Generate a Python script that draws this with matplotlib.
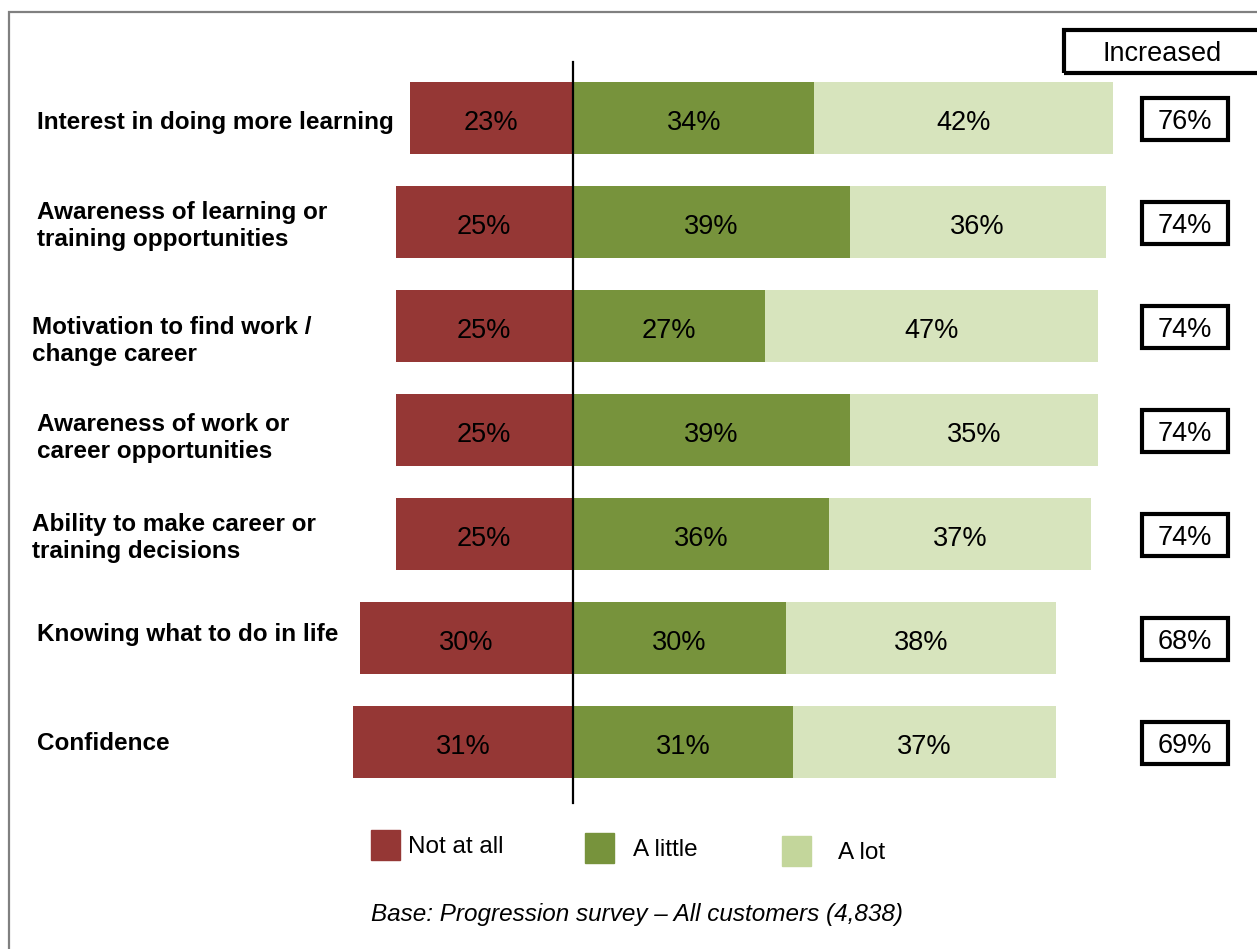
"""Diverging stacked bars: how much each outcome changed after the programme."""

import matplotlib

matplotlib.use("Agg")
import matplotlib.pyplot as plt  # noqa: E402
from matplotlib.patches import Rectangle  # noqa: E402

plt.rcParams["font.family"] = ["Liberation Sans", "DejaVu Sans"]

categories = [
    "Interest in doing more learning",
    "Awareness of learning or\ntraining opportunities",
    "Motivation to find work /\nchange career",
    "Awareness of work or\ncareer opportunities",
    "Ability to make career or\ntraining decisions",
    "Knowing what to do in life",
    "Confidence",
]
not_at_all = [23, 25, 25, 25, 25, 30, 31]
a_little = [34, 39, 27, 39, 36, 30, 31]
a_lot = [42, 36, 47, 35, 37, 38, 37]
increased = [76, 74, 74, 74, 74, 68, 69]

RED = "#953735"
GREEN = "#77933C"
LIGHT = "#D7E4BD"
LIGHT_KEY = "#C3D69B"

W, H = 1257, 949
CENTER_PX, PX_PER_PCT = 573, 7.1
ROW0_PX, ROW_STEP_PX = 118, 104

# per-row nudges for the category labels (x left edge, y shift in px)
label_x = [37, 37, 32, 37, 32, 37, 37]
label_dy = [4, 4, 15, 8, 4, -4, 2]


def fx(px):
    return px / W


def fy(py):
    return 1 - py / H


def row_y(py):
    return (py - ROW0_PX) / ROW_STEP_PX


fig = plt.figure(figsize=(W / 100, H / 100), dpi=100)
ax = fig.add_axes([0, 0, 1, 1])
ax.set_xlim(-CENTER_PX / PX_PER_PCT, (W - CENTER_PX) / PX_PER_PCT)
ax.set_ylim(row_y(H), row_y(0))
ax.axis("off")

rows = range(len(categories))
bh = 0.70
ax.barh(rows, not_at_all, left=[-v for v in not_at_all], height=bh, color=RED)
ax.barh(rows, a_little, left=0, height=bh, color=GREEN)
ax.barh(rows, a_lot, left=a_little, height=bh, color=LIGHT)

dy = 0.045
for i in rows:
    ax.text(-not_at_all[i] / 2, i + dy, f"{not_at_all[i]}%", ha="center", va="center",
            fontsize=19.5)
    ax.text(a_little[i] / 2, i + dy, f"{a_little[i]}%", ha="center", va="center",
            fontsize=19.5)
    ax.text(a_little[i] + a_lot[i] / 2, i + dy, f"{a_lot[i]}%", ha="center",
            va="center", fontsize=19.5)

ax.plot([0, 0], [row_y(62), row_y(803)], color="black", lw=1.6)

# category labels on the left
for i, lab in enumerate(categories):
    fig.text(fx(label_x[i]), fy(ROW0_PX + ROW_STEP_PX * i + label_dy[i]), lab,
             ha="left", va="center", fontsize=17.5, fontweight="bold", linespacing=1.27)

# "Increased" column header and boxed totals
fig.patches.append(Rectangle((fx(1064), fy(73)), fx(260), 43 / H, fill=False,
                             ec="black", lw=3, transform=fig.transFigure))
fig.text(fx(1162), fy(54), "Increased", ha="center", va="center", fontsize=19.5)
for i, v in enumerate(increased):
    cy = ROW0_PX + ROW_STEP_PX * i
    fig.patches.append(Rectangle((fx(1142), fy(cy + 22)), fx(86), 42 / H, fill=False,
                                 ec="black", lw=3, transform=fig.transFigure))
    fig.text(fx(1185), fy(cy + 4), f"{v}%", ha="center", va="center", fontsize=19.5)

# legend keys
keys = [("Not at all", RED, 371, 830, 408), ("A little", GREEN, 585, 833, 633),
        ("A lot", LIGHT_KEY, 782, 836, 838)]
for text, col, kx, ky, tx in keys:
    fig.patches.append(Rectangle((fx(kx), fy(ky + 30)), fx(29), 30 / H, color=col,
                                 transform=fig.transFigure))
    fig.text(fx(tx), fy(ky + 17), text, ha="left", va="center", fontsize=17.5)

fig.text(fx(637), fy(915), "Base: Progression survey \u2013 All customers (4,838)",
         ha="center", va="center", fontsize=17.5, style="italic")

# outer frame, running off the right and bottom edges
fig.patches.append(Rectangle((fx(9), fy(H + 20)), fx(W), (H + 8) / H, fill=False,
                             ec="#808080", lw=1.6, transform=fig.transFigure))

fig.savefig("out.png", dpi=100)
